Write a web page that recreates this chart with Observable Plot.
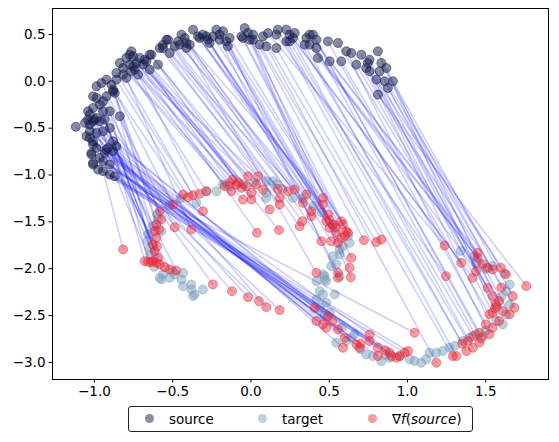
<!DOCTYPE html>
<html><head><meta charset="utf-8">
<script src="https://cdn.jsdelivr.net/npm/d3@7"></script>
<script src="https://cdn.jsdelivr.net/npm/@observablehq/plot@0.6"></script>
<style>
body{margin:0;background:#fff;font-family:"DejaVu Sans",sans-serif;}
#wrap{width:559px;}
.legend{position:relative;margin-left:128px;margin-top:6px;width:343px;height:24px;border:1px solid #222;border-radius:3px;font-size:13.5px;color:#000;}
.legend .m{position:absolute;top:7px;width:9px;height:9px;border-radius:50%;}
.legend .t{position:absolute;top:3px;line-height:18px;white-space:nowrap;}
</style>
</head><body>
<div id="wrap"></div>
<script>
// source samples (ordered along the arc)
const sourcePts = [
[-0.870,-1.013],[-0.902,-0.995],[-0.945,-0.959],[-0.977,-0.942],[-0.902,-0.888],[-1.009,-0.888],[-0.945,-0.853],[-1.009,-0.871],[-0.966,-0.817],[-1.019,-0.782],
[-0.934,-0.764],[-0.881,-0.746],[-1.019,-0.764],[-0.923,-0.728],[-0.913,-0.711],[-0.987,-0.711],[-0.860,-0.693],[-1.009,-0.675],[-1.009,-0.640],[-0.881,-0.640],
[-1.030,-0.604],[-1.051,-0.586],[-0.987,-0.551],[-0.945,-0.533],[-1.030,-0.533],[-0.902,-0.498],[-1.119,-0.485],[-1.030,-0.462],[-1.060,-0.444],[-1.009,-0.426],
[-0.966,-0.426],[-1.041,-0.409],[-0.998,-0.409],[-0.934,-0.409],[-0.987,-0.391],[-0.838,-0.373],[-1.030,-0.355],[-0.902,-0.320],[-0.945,-0.320],[-1.041,-0.320],
[-1.009,-0.284],[-0.966,-0.249],[-0.945,-0.213],[-0.987,-0.178],[-1.009,-0.160],[-0.923,-0.160],[-0.870,-0.124],[-0.881,-0.107],[-0.881,-0.089],[-0.987,-0.053],
[-0.891,-0.036],[-0.955,-0.018],[-0.923,0.018],[-0.860,0.018],[-0.796,0.036],[-0.817,0.071],[-0.721,0.071],[-0.860,0.089],[-0.764,0.107],[-0.743,0.124],
[-0.647,0.124],[-0.817,0.142],[-0.753,0.160],[-0.775,0.178],[-0.690,0.178],[-0.594,0.178],[-0.838,0.196],[-0.732,0.196],[-0.668,0.213],[-0.679,0.231],
[-0.711,0.249],[-0.796,0.249],[-0.753,0.267],[-0.775,0.284],[-0.647,0.284],[-0.636,0.284],[-0.519,0.302],[-0.764,0.320],[-0.583,0.355],[-0.562,0.355],
[-0.487,0.373],[-0.562,0.391],[-0.540,0.444],[-0.530,0.444],[-0.466,0.426],[-0.455,0.391],[-0.444,0.498],[-0.423,0.462],[-0.413,0.355],[-0.413,0.409],
[-0.391,0.391],[-0.370,0.551],[-0.338,0.480],[-0.328,0.462],[-0.307,0.498],[-0.285,0.480],[-0.275,0.444],[-0.264,0.409],[-0.243,0.480],[-0.221,0.551],
[-0.200,0.498],[-0.200,0.444],[-0.179,0.533],[-0.157,0.426],[-0.147,0.373],[-0.136,0.462],[-0.061,0.480],[-0.051,0.462],[-0.040,0.568],[-0.019,0.515],
[-0.008,0.444],[0.013,0.444],[0.013,0.498],[0.056,0.391],[0.077,0.480],[0.098,0.373],[0.109,0.515],[0.162,0.498],[0.162,0.355],[0.172,0.551],
[0.226,0.551],[0.226,0.426],[0.247,0.498],[0.247,0.426],[0.268,0.462],[0.279,0.515],[0.343,0.391],[0.354,0.462],[0.375,0.391],[0.375,0.498],
[0.396,0.498],[0.418,0.355],[0.418,0.444],[0.428,0.249],[0.492,0.426],[0.503,0.213],[0.556,0.409],[0.577,0.213],[0.609,0.320],[0.641,0.302],
[0.673,0.178],[0.705,0.284],[0.737,0.142],[0.747,0.196],[0.758,0.231],[0.758,0.107],[0.811,0.320],[0.822,0.107],[0.833,0.196],[0.865,0.142],
[0.801,0.018],[0.854,0.000],[0.907,0.000],[0.875,-0.071],[0.811,-0.142]
];

// target samples
const targetPts = [
[-0.285,-1.173],[-0.221,-1.173],[-0.179,-1.101],[-0.136,-1.119],[-0.349,-1.297],[0.098,-1.066],[0.141,-1.066],[0.162,-1.101],[0.098,-1.244],[0.098,-1.191],[0.268,-1.244],
[-0.583,-2.097],[-0.562,-2.061],[-0.519,-2.097],[-0.487,-2.061],[-0.444,-2.114],[-0.434,-2.186],[-0.381,-2.168],[-0.381,-2.221],[-0.370,-2.292],[-0.307,-2.221],[-0.572,-2.114],[-0.434,-2.044],[-0.360,-2.274],
[-0.647,-1.777],[-0.658,-1.634],[-0.626,-1.546],[-0.594,-1.475],[-0.572,-1.599],[-0.658,-1.700],
[0.524,-1.528],[0.620,-1.652],[0.630,-1.724],[0.566,-1.795],[0.524,-1.866],[0.513,-1.972],[0.566,-2.079],[0.471,-2.079],[0.418,-2.132],[0.481,-2.132],[0.545,-1.954],[0.588,-1.759],[0.566,-1.848],
[0.460,-2.061],[0.471,-2.114],[0.439,-2.239],[0.460,-2.274],[0.418,-2.328],[0.481,-2.363],[0.535,-2.274],[0.503,-2.470],[0.545,-2.790],[0.609,-2.772],[0.641,-2.736],
[0.737,-2.914],[0.779,-2.932],[0.833,-2.985],[0.886,-2.950],[0.950,-2.932],[1.014,-2.967],[1.045,-2.985],[1.088,-3.003],[1.120,-2.967],[1.141,-2.896],[1.184,-2.896],
[1.226,-2.878],[1.269,-2.843],[1.301,-2.825],[1.354,-2.772],[1.397,-2.736],[1.439,-2.700],[1.482,-2.718],[1.567,-2.559],[1.609,-2.594],[1.631,-2.487],[1.652,-2.381],
[1.631,-2.239],[1.652,-2.168],[1.545,-1.972],[1.439,-1.937],[1.428,-1.866],
[-0.050,-1.100],[0.020,-1.080],[0.200,-1.150],[0.330,-1.250],[0.400,-1.330],[0.450,-1.400],[-0.450,-1.250],[-0.520,-1.320],[-0.600,-1.420],[-0.640,-1.850],
[-0.620,-1.980],[-0.500,-2.030],[0.580,-2.630],[0.660,-2.700],[0.700,-2.860],[0.860,-2.920],[1.500,-2.660],[1.570,-2.400],[1.600,-2.300],[1.620,-2.050],
[1.500,-2.000],[1.340,-1.810],[0.470,-2.500],[0.440,-2.420]
];

// gradient of f at each source sample, in the same order as sourcePts
const gradLowerArc = [
[1.045,-2.683],[1.003,-2.878],[0.982,-2.896],[0.950,-2.932],[0.929,-2.950],[0.897,-2.932],[0.886,-2.896],[0.860,-2.870],[0.811,-2.932],[0.811,-2.843],
[0.758,-2.772],[0.758,-2.701],[0.700,-2.800],[0.694,-2.843],[0.673,-2.807],[0.599,-2.737],[0.588,-2.843],[0.556,-2.647],[0.520,-2.560],[0.492,-2.505],
[0.481,-2.630],[0.460,-2.594],[0.418,-2.559],[0.407,-2.417],[0.183,-2.441],[0.098,-2.409],[0.051,-2.345],[-0.019,-2.303],[-0.121,-2.239],[-0.243,-2.167]
];
const gradLeftColumn = [
[-0.477,-2.018],[-0.519,-2.008],[-0.551,-1.983],[-0.583,-1.954],[-0.604,-1.937],[-0.626,-1.919],[-0.640,-1.930],[-0.657,-1.926],[-0.679,-1.919],[-0.817,-1.794],
[-0.594,-1.884],[-0.615,-1.812],[-0.600,-1.760],[-0.626,-1.741],[-0.604,-1.670],[-0.615,-1.599],[-0.587,-1.581],[-0.604,-1.528],[-0.572,-1.474],[-0.583,-1.386]
];
const gradUpperLeft = [
[-0.498,-1.315],[-0.487,-1.557],[-0.434,-1.208],[-0.402,-1.237],[-0.381,-1.581],[-0.370,-1.215],[-0.328,-1.201],[-0.307,-1.386],[-0.285,-1.173]
];
const gradMiddle = [
[-0.168,-1.119],[-0.136,-1.084],[-0.125,-1.173],[-0.115,-1.048],[-0.093,-1.101],[-0.080,-1.080],[-0.061,-1.137],[-0.051,-1.262],[-0.029,-1.119],[-0.019,-1.013],
[0.003,-1.262],[0.003,-1.191],[0.034,-1.101],[0.038,-1.617],[0.045,-1.013],[0.077,-1.155],[0.119,-1.368],[0.172,-1.148],[0.179,-1.588],[0.183,-1.244],
[0.183,-1.315],[0.236,-1.173],[0.279,-1.155],[0.311,-1.546],[0.328,-1.493],[0.332,-1.297],[0.354,-1.208],[0.386,-1.386],[0.386,-1.439],[0.418,-2.044],
[0.450,-1.706],[0.460,-1.244],[0.460,-1.315],[0.481,-1.493],[0.492,-1.421],[0.500,-1.480],[0.502,-1.564],[0.513,-1.706],[0.524,-1.528],[0.540,-1.560],
[0.545,-1.617],[0.556,-1.724],[0.556,-2.044],[0.556,-2.097],[0.577,-1.493],[0.577,-1.671],[0.588,-1.528],[0.600,-1.650],[0.609,-1.599],[0.620,-1.617],
[0.630,-1.990],[0.637,-2.090],[0.641,-1.884],[0.722,-1.695],[0.801,-1.716],[0.833,-1.688]
];
const gradRightArc = [
[1.184,-3.003],[1.237,-1.752],[1.246,-2.079],[1.290,-2.932],[1.312,-2.932],[1.343,-1.937],[1.350,-2.800],[1.376,-2.878],[1.386,-2.772],[1.416,-2.097],
[1.418,-2.719],[1.418,-2.843],[1.438,-2.026],[1.448,-1.884],[1.448,-1.830],[1.460,-2.683],[1.460,-2.789],[1.470,-2.740],[1.480,-1.950],[1.501,-2.594],
[1.512,-1.990],[1.512,-2.204],[1.524,-2.487],[1.524,-2.700],[1.544,-2.008],[1.544,-2.292],[1.544,-2.470],[1.544,-2.630],[1.560,-2.420],[1.565,-2.381],
[1.586,-2.345],[1.586,-2.558],[1.597,-1.990],[1.600,-2.200],[1.609,-2.452],[1.629,-2.061],[1.652,-2.487],[1.673,-2.292],[1.684,-2.417],[1.759,-2.185]
];
const gradPts = [...gradLowerArc, ...gradLeftColumn, ...gradUpperLeft, ...gradMiddle, ...gradRightArc];

const xTicks = [-1.0,-0.5,0.0,0.5,1.0,1.5];
const yTicks = [0.5,0.0,-0.5,-1.0,-1.5,-2.0,-2.5,-3.0];
const legendLabels = ["source","target","∇f(source)"];

const COL_SRC = "#141c4a", COL_TGT = "#7fa2bb", COL_GRAD = "#ec2430";

const n = Math.min(sourcePts.length, gradPts.length);
const links = d3.range(n).map(i => ({x1: sourcePts[i][0], y1: sourcePts[i][1], x2: gradPts[i][0], y2: gradPts[i][1]}));
const fmt = d3.format(".1f");

const chart = Plot.plot({
  width: 559, height: 400,
  marginLeft: 52, marginRight: 11, marginTop: 8, marginBottom: 21,
  style: {fontFamily: "DejaVu Sans", fontSize: "13.5px", color: "#000", background: "#fff"},
  x: {domain: [-1.268, 1.901]},
  y: {domain: [-3.182, 0.777]},
  marks: [
    Plot.dot(targetPts, {x: d => d[0], y: d => d[1], r: 4.5, fill: COL_TGT, fillOpacity: 0.5, stroke: COL_TGT, strokeOpacity: 0.5, strokeWidth: 1}),
    Plot.link(links, {x1: "x1", y1: "y1", x2: "x2", y2: "y2", stroke: "#0000ff", strokeOpacity: 0.2, strokeWidth: 1.5}),
    Plot.dot(sourcePts, {x: d => d[0], y: d => d[1], r: 4.5, fill: COL_SRC, fillOpacity: 0.5, stroke: COL_SRC, strokeOpacity: 0.5, strokeWidth: 1}),
    Plot.dot(gradPts, {x: d => d[0], y: d => d[1], r: 4.5, fill: COL_GRAD, fillOpacity: 0.45, stroke: COL_GRAD, strokeOpacity: 0.45, strokeWidth: 1}),
    Plot.axisX({ticks: xTicks, tickFormat: fmt, tickSize: 3.5, tickPadding: 3.5, label: null}),
    Plot.axisY({ticks: yTicks, tickFormat: fmt, tickSize: 3.5, tickPadding: 3.5, label: null}),
    Plot.frame({stroke: "#000", strokeWidth: 1})
  ]
});
const wrap = document.getElementById("wrap");
wrap.appendChild(chart);

// legend
const lg = document.createElement("div");
lg.className = "legend";
const items = [
  {c: COL_SRC, o: 0.5, mx: 16, tx: 40, label: legendLabels[0]},
  {c: COL_TGT, o: 0.5, mx: 129, tx: 153, label: legendLabels[1]},
  {c: COL_GRAD, o: 0.45, mx: 239, tx: 263, label: legendLabels[2]}
];
items.forEach((it, i) => {
  const m = document.createElement("div");
  m.className = "m";
  m.style.left = it.mx + "px";
  m.style.background = it.c;
  m.style.opacity = it.o;
  lg.appendChild(m);
  const t = document.createElement("div");
  t.className = "t";
  t.style.left = it.tx + "px";
  if (i === 2) {
    t.innerHTML = "∇<i>f</i>(<i>source</i>)";
  } else {
    t.textContent = it.label;
  }
  lg.appendChild(t);
});
wrap.appendChild(lg);
</script>
</body></html>
